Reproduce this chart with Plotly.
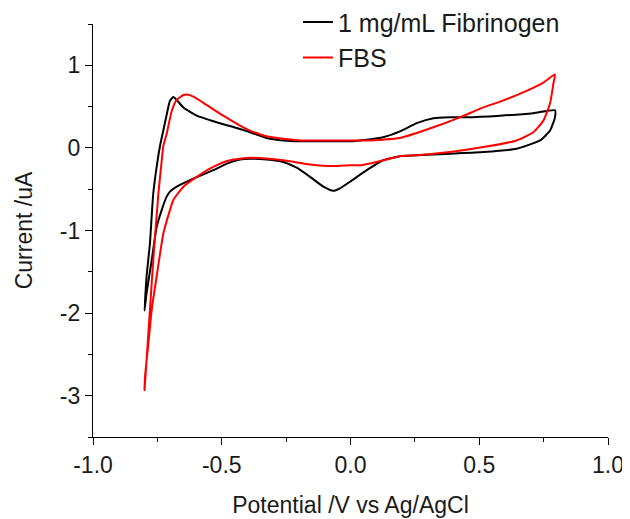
import plotly.graph_objects as go

# Fibrinogen CV loop (start at -0.8 V, anodic scan, then cathodic return)
fib_x = [-0.800, -0.792, -0.779, -0.766, -0.749, -0.740, -0.727, -0.714, -0.701, -0.688,
         -0.675, -0.649, -0.597, -0.520, -0.442, -0.390, -0.326, -0.261, -0.196, -0.100, -0.002,
         0.063, 0.127, 0.192, 0.257, 0.322, 0.386, 0.451, 0.581, 0.710, 0.794,
         0.794, 0.775, 0.736, 0.645, 0.516, 0.386, 0.257, 0.192, 0.127, 0.063, -0.002,
         -0.041, -0.067, -0.105, -0.157, -0.209, -0.261, -0.326, -0.390, -0.429, -0.480, -0.533, -0.623, -0.675,
         -0.701, -0.714, -0.733, -0.753, -0.772, -0.792, -0.800]
fib_y = [-1.97, -1.56, -1.16, -0.55, -0.15, 0.02, 0.21, 0.40, 0.57, 0.615,
         0.58, 0.49, 0.39, 0.31, 0.24, 0.19, 0.12, 0.09, 0.08, 0.08, 0.08,
         0.10, 0.13, 0.20, 0.30, 0.36, 0.37, 0.37, 0.39, 0.42, 0.455,
         0.37, 0.21, 0.09, -0.01, -0.05, -0.07, -0.09, -0.10, -0.15, -0.27, -0.41,
         -0.49, -0.52, -0.47, -0.35, -0.24, -0.17, -0.14, -0.13, -0.14, -0.19, -0.27, -0.39, -0.47,
         -0.53, -0.59, -0.75, -0.96, -1.36, -1.76, -1.97]

# FBS CV loop
fbs_x = [-0.800, -0.792, -0.779, -0.766, -0.746, -0.733, -0.727, -0.714, -0.694, -0.675,
         -0.649, -0.636, -0.610, -0.559, -0.494, -0.429, -0.390, -0.326, -0.261, -0.196, -0.041,
         0.063, 0.127, 0.192, 0.322, 0.425, 0.516, 0.581, 0.684, 0.749, 0.794,
         0.788, 0.775, 0.749, 0.710, 0.645, 0.516, 0.386, 0.257, 0.192, 0.127, 0.039, -0.002,
         -0.067, -0.157, -0.261, -0.390, -0.468, -0.533, -0.597, -0.649, -0.688,
         -0.701, -0.727, -0.753, -0.772, -0.785, -0.798, -0.800]
fbs_y = [-2.93, -2.57, -1.96, -1.36, -0.55, -0.15, 0.02, 0.17, 0.45, 0.58,
         0.64, 0.645, 0.62, 0.52, 0.39, 0.27, 0.21, 0.14, 0.11, 0.09, 0.09,
         0.09, 0.10, 0.12, 0.25, 0.37, 0.49, 0.56, 0.69, 0.79, 0.89,
         0.78, 0.54, 0.33, 0.19, 0.09, 0.01, -0.05, -0.09, -0.10, -0.15, -0.21, -0.21,
         -0.22, -0.20, -0.15, -0.12, -0.15, -0.23, -0.35, -0.47, -0.63,
         -0.75, -1.04, -1.56, -1.96, -2.37, -2.77, -2.93]

names = ["1 mg/mL Fibrinogen", "FBS"]
colors = ["#000000", "#ff0000"]

x_tickvals = [-1.0, -0.5, 0.0, 0.5, 1.0]
x_ticktext = ["-1.0", "-0.5", "0.0", "0.5", "1.0"]
y_tickvals = [-3, -2, -1, 0, 1]
y_ticktext = ["-3", "-2", "-1", "0", "1"]

FONT = "Arial, 'Liberation Sans', sans-serif"
TXT = "#1a1a1a"

fig = go.Figure()
for xs, ys, nm, c in [(fib_x, fib_y, names[0], colors[0]), (fbs_x, fbs_y, names[1], colors[1])]:
    fig.add_trace(go.Scatter(x=xs, y=ys, mode="lines", name=nm,
                             line=dict(color=c, width=2, shape="spline", smoothing=0.5)))

axis_common = dict(showline=True, linecolor="black", linewidth=1.3, ticks="outside",
                   ticklen=7, tickwidth=1.3, tickcolor="black", showgrid=False,
                   zeroline=False, mirror=False, automargin=False,
                   tickfont=dict(family=FONT, size=23, color=TXT),
                   title_font=dict(family=FONT, size=23, color=TXT))

fig.update_xaxes(range=[-1.0, 1.0], tickvals=x_tickvals, ticktext=x_ticktext,
                 minor=dict(ticks="outside", ticklen=4, tickwidth=1.3, tickcolor="black", dtick=0.25, tick0=-1.0),
                 title_text="Potential /V vs Ag/AgCl", title_standoff=20, **axis_common)
fig.update_yaxes(range=[-3.5, 1.5], tickvals=y_tickvals, ticktext=y_ticktext,
                 minor=dict(ticks="outside", ticklen=4, tickwidth=1.3, tickcolor="black", dtick=0.5, tick0=-3.5),
                 title_text="Current /uA", title_standoff=20, **axis_common)

fig.update_layout(
    width=622, height=511,
    margin=dict(l=85, r=22, t=16, b=82, autoexpand=False),
    paper_bgcolor="white", plot_bgcolor="white",
    font=dict(family=FONT, size=23, color=TXT),
    showlegend=True,
    legend=dict(x=0.398, y=1.06, xanchor="left", yanchor="top",
                bgcolor="rgba(0,0,0,0)", font=dict(family=FONT, size=25, color=TXT),
                tracegroupgap=0),
)

fig.write_html("out.html")
